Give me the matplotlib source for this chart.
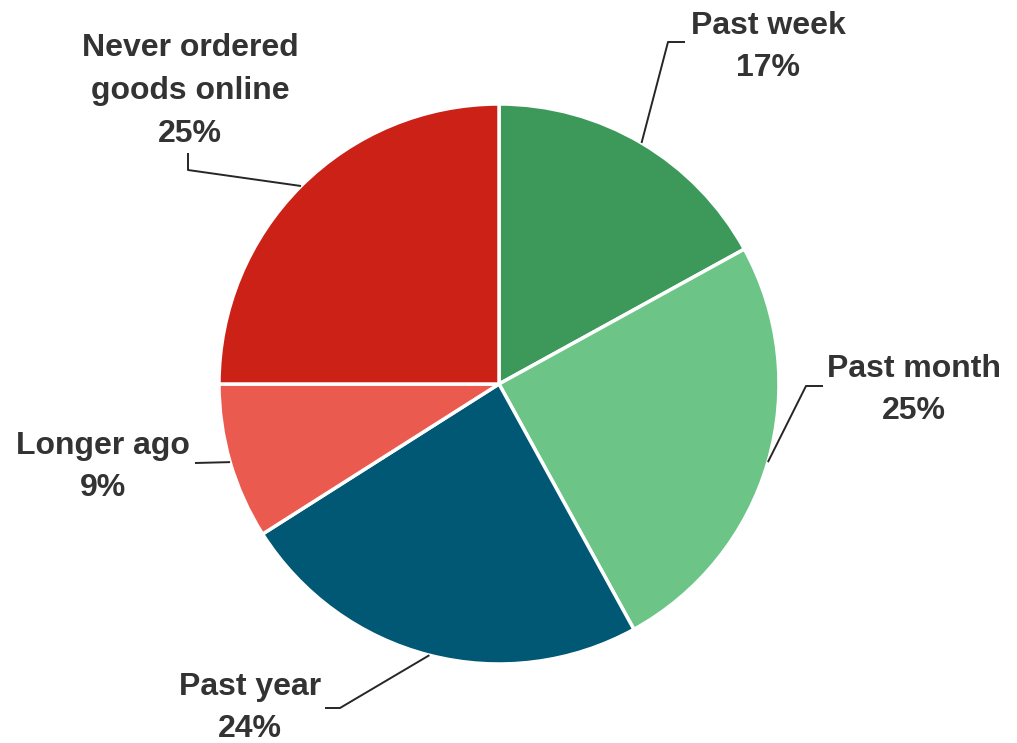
import matplotlib
matplotlib.use("Agg")
import matplotlib.pyplot as plt
import numpy as np

labels = ["Past week", "Past month", "Past year", "Longer ago", "Never ordered\ngoods online"]
values = [17, 25, 24, 9, 25]
colors = ["#3d995a", "#6cc586", "#005874", "#ea5a4f", "#cc2116"]

W, H = 1017, 743
CX, CY, R = 499, 384, 280

def p2d(px, py):
    return ((px - CX) / R, (CY - py) / R)

fig = plt.figure(figsize=(W / 100, H / 100), dpi=100)
ax = fig.add_axes([0, 0, 1, 1])

wedges, _ = ax.pie(values, colors=colors, startangle=90, counterclock=False,
                   radius=1.0, center=(0, 0), frame=True,
                   wedgeprops=dict(edgecolor="white", linewidth=2.5))
ax.set_xlim(-CX / R, (W - CX) / R)
ax.set_ylim(-(H - CY) / R, CY / R)
ax.set_aspect("equal")
ax.axis("off")

# label placement (pixel coords): text center, leader polyline after wedge anchor
layout = [
    dict(text=(768, 47), path=[(668, 42), (685, 42)]),
    dict(text=(914, 390), path=[(806, 386), (823, 386)]),
    dict(text=(250, 708), path=[(340, 708), (325, 708)]),
    dict(text=(103, 467), path=[(195, 463)]),
    dict(text=(190, 91), path=[(188, 170), (188, 153)]),
]

for w, lab, val, lay in zip(wedges, labels, values, layout):
    ang = np.deg2rad((w.theta1 + w.theta2) / 2)
    x0, y0 = np.cos(ang), np.sin(ang)
    pts = [(x0, y0)] + [p2d(*p) for p in lay["path"]]
    xs, ys = zip(*pts)
    ax.plot(xs, ys, color="#262626", lw=1.4, solid_capstyle="butt")
    tx, ty = p2d(*lay["text"])
    ax.text(tx, ty, f"{lab}\n{val}%", ha="center", va="center",
            fontsize=23, fontweight="bold", family="Liberation Sans",
            color="#333333", linespacing=1.56)

fig.savefig("out.png", dpi=100)
